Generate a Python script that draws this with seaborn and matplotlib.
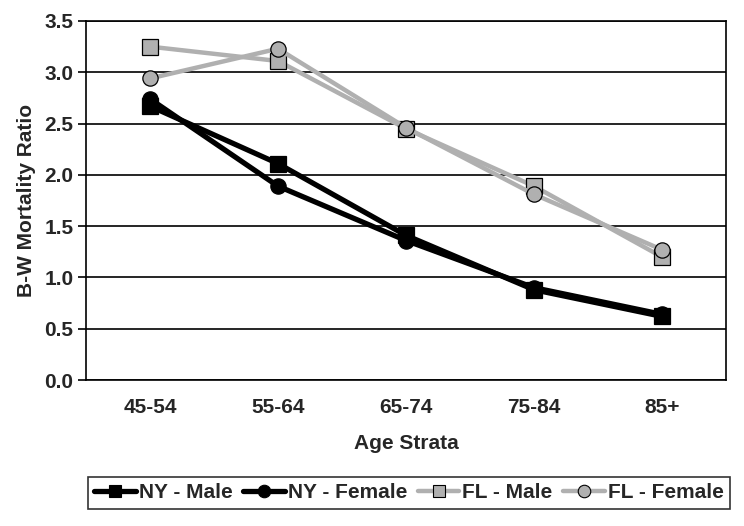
import matplotlib
matplotlib.use("Agg")
import matplotlib.pyplot as plt
import seaborn as sns
import pandas as pd
from matplotlib.lines import Line2D

categories = ["45-54", "55-64", "65-74", "75-84", "85+"]
ny_male = [2.67, 2.11, 1.41, 0.88, 0.62]
ny_female = [2.74, 1.89, 1.36, 0.90, 0.64]
fl_male = [3.25, 3.11, 2.45, 1.89, 1.20]
fl_female = [2.94, 3.23, 2.46, 1.81, 1.27]
series_names = ["NY - Male", "NY - Female", "FL - Male", "FL - Female"]
y_ticks = [0.0, 0.5, 1.0, 1.5, 2.0, 2.5, 3.0, 3.5]

sns.set_style("white")
plt.rcParams["font.family"] = ["Liberation Sans", "DejaVu Sans"]
plt.rcParams["font.weight"] = "bold"

rows = []
for name, vals in zip(series_names, [ny_male, ny_female, fl_male, fl_female]):
    for c, v in zip(categories, vals):
        rows.append({"Age": c, "Ratio": v, "Series": name})
df = pd.DataFrame(rows)

fig = plt.figure(figsize=(7.44, 5.26), dpi=100)
ax = fig.add_axes([86/744, 1 - 380/526, (726-86)/744, (380-21)/526])

FS = 15
gray = "#b0b0b0"
styles = {
    "NY - Male": dict(color="black", marker="s", mfc="black", lw=3.8, ms=11),
    "NY - Female": dict(color="black", marker="o", mfc="black", lw=3.8, ms=11),
    "FL - Male": dict(color=gray, marker="s", mfc=gray, lw=3.2, ms=11),
    "FL - Female": dict(color=gray, marker="o", mfc=gray, lw=3.2, ms=11),
}
for name in series_names:
    st = styles[name]
    sub = df[df["Series"] == name]
    sns.lineplot(data=sub, x="Age", y="Ratio", ax=ax, color=st["color"],
                 linewidth=st["lw"], marker=st["marker"], markersize=st["ms"],
                 markerfacecolor=st["mfc"], markeredgecolor="black",
                 markeredgewidth=0.9, legend=False, sort=False)

ax.set_xlim(-0.5, 4.5)
ax.set_ylim(0, 3.5)
ax.set_yticks(y_ticks)
ax.set_yticklabels([f"{t:.1f}" for t in y_ticks], fontsize=FS, fontweight="bold")
ax.set_xticks(range(len(categories)))
ax.set_xticklabels(categories, fontsize=FS, fontweight="bold")
ax.set_xticks([i - 0.5 for i in range(len(categories) + 1)], minor=True)
ax.tick_params(axis="x", which="major", length=0, pad=13)
ax.tick_params(axis="x", which="minor", length=6, width=1.2, color="black", direction="out")
ax.tick_params(axis="y", length=6, width=1.2, color="black", direction="out", pad=3, left=True)
ax.yaxis.grid(True, color="black", linewidth=1.2)
ax.set_axisbelow(True)
for s in ax.spines.values():
    s.set_color("black")
    s.set_linewidth(1.2)

ax.set_xlabel("Age Strata", fontsize=FS, fontweight="bold", labelpad=12)
ax.set_ylabel("B-W Mortality Ratio", fontsize=FS, fontweight="bold", labelpad=6)

handles = []
for name in series_names:
    st = styles[name]
    handles.append(Line2D([0], [0], color=st["color"], lw=st["lw"], marker=st["marker"],
                          markersize=9, markerfacecolor=st["mfc"], markeredgecolor="black",
                          markeredgewidth=0.8))
leg = fig.legend(handles, series_names, loc="center", bbox_to_anchor=(409/744, 1 - 493/526),
                 ncol=4, fontsize=FS, frameon=True, fancybox=False, edgecolor="black",
                 handlelength=2.0, handletextpad=0.15, columnspacing=0.5, borderpad=0.3)
leg.get_frame().set_linewidth(1.2)
for t in leg.get_texts():
    t.set_fontweight("bold")

fig.savefig("out.png", dpi=100)
